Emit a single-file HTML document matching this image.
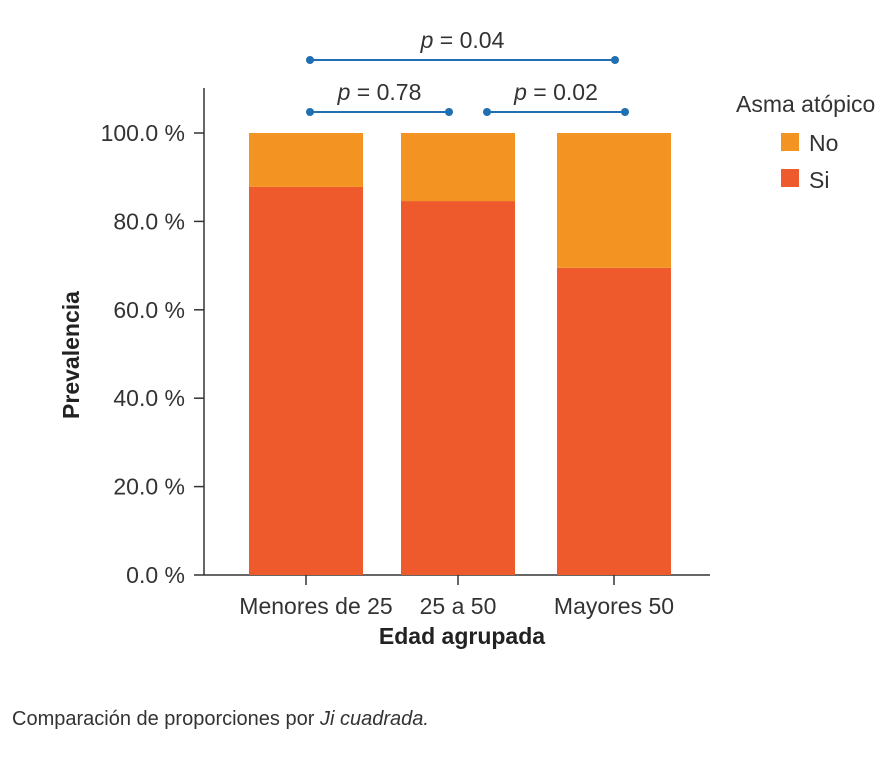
<!DOCTYPE html>
<html><head><meta charset="utf-8">
<style>
body{margin:0;background:#fff;}
svg{display:block;font-family:"Liberation Sans Narrow","Liberation Sans",sans-serif;}
</style></head>
<body>
<svg id="chart" width="895" height="758" viewBox="0 0 895 758" xmlns="http://www.w3.org/2000/svg">
<g id="axes"></g>
<g id="bars"></g>
<g id="brackets"></g>
<text x="0" y="0" transform="translate(79,355) rotate(-90)" text-anchor="middle" font-size="23" font-weight="bold" fill="#222">Prevalencia</text>
<text x="462" y="644" text-anchor="middle" font-size="23" font-weight="bold" fill="#222">Edad agrupada</text>
<g>
<text x="736" y="112" font-size="23" fill="#333">Asma atópico</text>
<rect x="781" y="133" width="18" height="18" fill="#F39321"/>
<text x="809" y="151" font-size="23" fill="#333">No</text>
<rect x="781" y="169" width="18" height="18" fill="#EE5A2C"/>
<text x="809" y="188" font-size="23" fill="#333">Si</text>
</g>
<text x="12" y="725" font-size="20" fill="#333">Comparación de proporciones por <tspan font-style="italic">Ji cuadrada.</tspan></text>
</svg>
<script>
const categories=["Menores de 25","25 a 50","Mayores 50"];
const siValues=[87.8,84.6,69.5];
const noValues=[12.2,15.4,30.5];
const yTicks=[0,20,40,60,80,100];
const yTickLabels=["0.0 %","20.0 %","40.0 %","60.0 %","80.0 %","100.0 %"];
const pLabels=["0.04","0.78","0.02"];

const NS="http://www.w3.org/2000/svg";
const y0=575,y100=133;
function y(v){return y0-(y0-y100)*v/100;}
const bandStart=[249,401,557],barW=114;
function xc(i){return bandStart[i]+barW/2;}
function mk(tag,attrs,parent){const e=document.createElementNS(NS,tag);for(const k in attrs)e.setAttribute(k,attrs[k]);parent.appendChild(e);return e;}
const axes=document.getElementById('axes'),bars=document.getElementById('bars'),br=document.getElementById('brackets');
let l=mk('line',{x1:204,y1:88,x2:204,y2:y0,stroke:'#333','stroke-width':1.5},axes);


l=mk('line',{x1:204,y1:y0,x2:710,y2:y0,stroke:'#333','stroke-width':1.5},axes);


yTicks.forEach((t,i)=>{
 const tk=mk('line',{x1:194,y1:y(t),x2:204,y2:y(t),stroke:'#333','stroke-width':1.5},axes);
 
 
 const tx=mk('text',{x:185,y:y(t)+8,'text-anchor':'end','font-size':23,fill:'#333'},axes);
 tx.textContent=yTickLabels[i];
 
 
});
categories.forEach((c,i)=>{
 const tk=mk('line',{x1:xc(i),y1:y0,x2:xc(i),y2:y0+10,stroke:'#333','stroke-width':1.5},axes);
 
 
 const tx=mk('text',{x:xc(i)+(i==0?10:0),y:614,'text-anchor':'middle','font-size':23,fill:'#333'},axes);
 tx.textContent=c;
 
 
 const si=mk('rect',{x:bandStart[i],y:y(siValues[i]),width:barW,height:y0-y(siValues[i]),fill:'#EE5A2C'},bars);
 
 
 const no=mk('rect',{x:bandStart[i],y:y(siValues[i]+noValues[i]),width:barW,height:y(siValues[i])-y(siValues[i]+noValues[i]),fill:'#F39321'},bars);
 
 
});
const brk=[[310,615,60,0],[310,449,112,1],[487,625,112,2]];
brk.forEach(b=>{
 const g=mk('g',{},br);
 
 
 mk('line',{x1:b[0],y1:b[2],x2:b[1],y2:b[2],stroke:'#1F6FB2','stroke-width':2},g);
 mk('circle',{cx:b[0],cy:b[2],r:4,fill:'#1F6FB2'},g);
 mk('circle',{cx:b[1],cy:b[2],r:4,fill:'#1F6FB2'},g);
 const t=mk('text',{x:(b[0]+b[1])/2,y:b[2]-12,'text-anchor':'middle','font-size':23,fill:'#333'},g);
 t.innerHTML='<tspan font-style="italic">p</tspan> = '+pLabels[b[3]];
});
</script>
</body></html>
